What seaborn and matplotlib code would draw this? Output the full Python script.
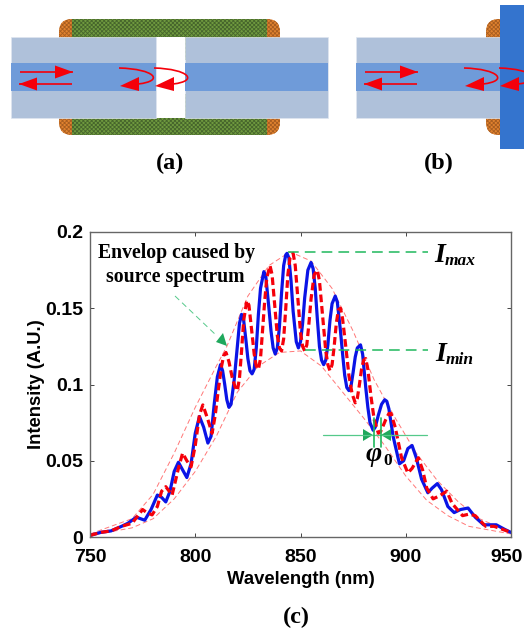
import numpy as np
import pandas as pd
import matplotlib
matplotlib.use("Agg")
import matplotlib.pyplot as plt
import seaborn as sns
from matplotlib.patches import Rectangle, FancyBboxPatch, PathPatch, Polygon
from matplotlib.path import Path as MplPath
from matplotlib.transforms import ScaledTranslation

# wavelength (nm) / intensity
blue_x = [750, 755, 760, 765, 768, 772, 776, 779, 782, 784, 786, 788, 790, 792, 794, 796, 798, 800, 802, 804,
          806, 807.5, 809, 810.5, 812, 813, 814, 815, 816, 817, 818.5, 820, 821, 822, 823, 824, 825, 826, 827, 828,
          829, 830, 831, 832.6, 833.5, 835, 836, 837, 838, 839, 840, 841, 842, 843, 843.6, 844.5, 845.5, 846.5, 848, 849,
          850, 851, 852, 853.5, 855, 856, 857, 858, 859, 860, 861, 862, 863, 864, 865, 866.5, 867.5, 869, 870, 871,
          872, 873, 874, 875, 876, 877, 878.5, 879.5, 881, 882, 883, 884.5, 885.5, 887, 888.5, 890, 891, 892, 894, 897,
          899, 901, 903, 905, 907.5, 910.5, 912.5, 915, 917, 920, 923, 926, 929.6, 933, 937, 940, 943, 947, 950]
blue_y = [.001, .003, .004, .007, .009, .013, .011, .018, .0275, .026, .023, .03, .043, .049, .044, .039, .048, .068, .079, .072,
          .0616, .066, .087, .105, .113, .109, .1, .09, .085, .087, .103, .125, .14, .146, .142, .13, .117, .109, .107, .11,
          .124, .146, .163, .174, .171, .15, .135, .124, .12, .124, .138, .16, .178, .185, .186, .183, .168, .148, .128, .124,
          .128, .14, .157, .175, .18, .176, .163, .143, .125, .116, .113, .116, .126, .142, .153, .158, .154, .135, .12, .106,
          .098, .096, .099, .108, .118, .124, .126, .12, .098, .085, .075, .07, .072, .08, .087, .09, .089, .084, .066, .048,
          .05, .058, .06, .052, .038, .029, .032, .035, .031, .02, .016, .018, .019, .013, .008, .008, .008, .005, .003]

red_x = [750, 755, 760, 765, 770, 775, 777, 779.5, 782, 784, 786, 789, 792, 794, 796, 798, 800, 802, 803.6, 806,
         808, 809.5, 811, 812.5, 813.5, 814.6, 816, 817.5, 819, 820, 821, 822, 823, 824.5, 825.5, 827, 828, 829, 830, 831,
         832, 833, 834, 835.5, 836.5, 838, 839, 840, 841, 842, 843, 844, 845, 846.5, 847.5, 849, 850, 851, 852, 853,
         854, 855, 856.5, 858, 859, 860.5, 862, 863, 864, 865, 866, 867, 868, 869, 870, 871.5, 873, 874.5, 876, 877,
         878, 879, 880, 881, 882, 883.5, 885, 887, 888, 889, 890.5, 892, 893, 895, 898,
         901, 903, 906, 908, 910, 913, 916, 919.5, 922, 927, 930, 933, 938, 942, 946, 950]
red_y = [.001, .003, .004, .007, .009, .018, .016, .0145, .02, .03, .033, .0275, .045, .055, .05, .046, .06, .08, .0866, .077,
         .068, .08, .097, .112, .119, .121, .115, .105, .098, .096, .104, .122, .142, .155, .152, .133, .12, .112, .11, .117,
         .136, .155, .17, .178, .172, .148, .132, .124, .122, .13, .15, .172, .183, .186, .178, .152, .134, .125, .122, .126,
         .14, .156, .172, .175, .168, .145, .122, .113, .109, .113, .125, .14, .149, .15, .143, .125, .106, .094, .088, .091,
         .1, .11, .116, .117, .11, .092, .077, .068, .069, .072, .077, .081, .081, .072, .052,
         .042, .045, .052, .044, .032, .025, .027, .03, .022, .014, .015, .014, .007, .007, .005, .003]

upper_x = [750, 770, 780, 790, 800, 810, 815, 825, 835, 845, 855, 865, 875, 885, 895, 905, 915, 925, 935, 950]
upper_y = [.002, .012, .028, .055, .085, .112, .125, .158, .178, .187, .181, .163, .135, .103, .078, .055, .037, .023, .012, .003]
lower_x = [750, 770, 780, 790, 800, 810, 820, 830, 840, 850, 860, 870, 880, 890, 900, 910, 920, 930, 950]
lower_y = [.001, .006, .012, .025, .043, .066, .095, .112, .121, .122, .112, .095, .078, .06, .04, .024, .014, .007, .002]

x_ticks = [750, 800, 850, 900, 950]
y_ticks = [0, 0.05, 0.1, 0.15, 0.2]
y_tick_labels = ["0", "0.05", "0.1", "0.15", "0.2"]

W, H = 524, 631
CLAD = "#afc1da"
CORE = "#6f9bd9"
MIRROR = "#3474ce"
ORANGE = "#e0822f"
GREEN = "#6f9a3f"
ARROW_GREEN = "#1fb85c"
RED = "#f5000a"

sns.set_style("white")
plt.rcParams["font.family"] = ["Liberation Sans", "DejaVu Sans"]
plt.rcParams["hatch.linewidth"] = 0.6

fig = plt.figure(figsize=(W / 100, H / 100), dpi=100)

# main chart, spine positions taken in pixels
ax = fig.add_axes([90 / W, 1 - 537 / H, 421 / W, 305 / H])
sns.lineplot(x=upper_x, y=upper_y, ax=ax, color="#f77", lw=0.7, linestyle=(0, (5, 3)), errorbar=None)
sns.lineplot(x=lower_x, y=lower_y, ax=ax, color="#f77", lw=0.7, linestyle=(0, (5, 3)), errorbar=None)
sns.lineplot(data=pd.DataFrame({"wl": blue_x, "i": blue_y}), x="wl", y="i", ax=ax, color="#0a14e6", lw=2.3, errorbar=None)
sns.lineplot(data=pd.DataFrame({"wl": red_x, "i": red_y}), x="wl", y="i", ax=ax, color=RED, lw=2.3,
             linestyle=(0, (2.4, 1.2)), errorbar=None)
ax.set_xlim(750, 950)
ax.set_ylim(0, 0.2)
ax.set_xticks(x_ticks)
ax.set_yticks(y_ticks)
ax.set_yticklabels(y_tick_labels)
ax.tick_params(direction="in", length=3, width=0.7, color="#444", top=True, right=True, bottom=True, left=True,
               labelsize=14, labelcolor="k", pad=5)
ax.tick_params(axis="x", pad=9)
for lab in ax.get_xticklabels() + ax.get_yticklabels():
    lab.set_fontweight("bold")
# keep the last label inside the canvas
last = ax.get_xticklabels()[-1]
last.set_transform(last.get_transform() + ScaledTranslation(-3 / 72, 0, fig.dpi_scale_trans))
ax.set_xlabel("Wavelength (nm)", fontsize=13.3, fontweight="bold", labelpad=3, color="k")
ax.set_ylabel("Intensity (A.U.)", fontsize=13.2, fontweight="bold", labelpad=0, color="k")
for s in ax.spines.values():
    s.set_color("#666")
    s.set_linewidth(1.0)

# overlay in pixel coordinates for the schematic and annotations
ov = fig.add_axes([0, 0, 1, 1], zorder=5)
ov.set_xlim(0, W)
ov.set_ylim(H, 0)
ov.axis("off")
ov.patch.set_alpha(0)


def draw_red_arrow(x0, y0, x1, y1):
    ov.plot([x0, x1], [y0, y1], color=RED, lw=1.2, solid_capstyle="butt")
    d = np.sign(x1 - x0)
    ov.add_patch(Polygon([[x1, y1], [x1 - d * 18, y1 - 6.5], [x1 - d * 18, y1 + 6.5]], fc=RED, ec="none"))


def draw_curl(x0, y0, xc, yc, x1, y1):
    path = MplPath([(x0, y0), (xc, y0 + 1), (xc + 10, yc + 9), (x1, y1)],
                   [MplPath.MOVETO, MplPath.CURVE4, MplPath.CURVE4, MplPath.CURVE4])
    ov.add_patch(PathPatch(path, fc="none", ec=RED, lw=1.2))
    ov.add_patch(Polygon([[x1 - 18, y1 + 2], [x1 + 1, y1 - 7], [x1 + 1, y1 + 7]], fc=RED, ec="none"))


def fiber(x0, x1):
    ov.add_patch(Rectangle((x0, 36.5), x1 - x0, 81.5, fc=CLAD, ec="#dfe6f0", lw=0.5))
    ov.add_patch(Rectangle((x0, 63), x1 - x0, 28, fc=CORE, ec="none"))


# (a) collars, the far side of each is hidden by the fiber
for y0, y1 in [(19, 60), (94, 135)]:
    ov.add_patch(FancyBboxPatch((59, y0), 221, y1 - y0, boxstyle="round,pad=0,rounding_size=13", fc=ORANGE,
                                ec="#a85d20", hatch="xxxxxxxx", lw=0))
    ov.add_patch(Rectangle((72, y0), 195, y1 - y0, fc=GREEN, ec="#47662c", hatch="xxxxxxxx", lw=0))
ov.add_patch(Rectangle((155.5, 36.5), 29.5, 81.5, fc="white", ec="none"))
fiber(10.5, 155.5)
fiber(185, 328)

# (b) collar and mirror
for y0, y1 in [(19, 60), (94, 135)]:
    ov.add_patch(FancyBboxPatch((486, y0), 30, y1 - y0, boxstyle="round,pad=0,rounding_size=13", fc=ORANGE,
                                ec="#a85d20", hatch="xxxxxxxx", lw=0))
fiber(356, 499.5)
ov.add_patch(Rectangle((499.5, 5), 24.5, 144, fc=MIRROR, ec="none"))

draw_red_arrow(20, 72, 73, 72)
draw_red_arrow(72, 84, 19, 84)
draw_red_arrow(365, 72, 418, 72)
draw_red_arrow(417, 84, 364, 84)
draw_curl(119, 68, 155, 72, 138, 84)
draw_curl(154, 68, 189, 72, 173, 84)
draw_curl(464, 68, 499, 72, 483, 84)
draw_curl(499, 68, 534, 72, 518, 84)

serif = ["Liberation Serif", "DejaVu Serif"]
ov.text(170, 163, "(a)", family=serif, fontweight="bold", fontsize=17.5, ha="center", va="center", color="k")
ov.text(439, 163, "(b)", family=serif, fontweight="bold", fontsize=17.5, ha="center", va="center", color="k")
ov.text(296, 617, "(c)", family=serif, fontweight="bold", fontsize=17.5, ha="center", va="center", color="k")
ov.text(176, 253, "Envelop caused by", family=serif, fontweight="bold", fontsize=14.2, ha="center", va="center", color="k")
ov.text(175, 277, "source spectrum", family=serif, fontweight="bold", fontsize=14.2, ha="center", va="center", color="k")

# green annotations
dash = (0, (7, 4))
ov.plot([288, 428], [251.5, 251.5], color=ARROW_GREEN, lw=1.1, linestyle=dash)
ov.plot([305, 428], [350, 350], color=ARROW_GREEN, lw=1.1, linestyle=dash)
ov.plot([175, 217], [296, 336], color="#55c98a", lw=0.7, linestyle=(0, (6, 4)))
ov.add_patch(Polygon([[227, 346], [216, 342], [223, 333]], fc="#1fa85c", ec="none"))
ov.plot([323, 427], [435, 435], color="#55c98a", lw=0.9)
ov.plot([374, 374], [418, 447], color=ARROW_GREEN, lw=1.2)
ov.plot([380.5, 380.5], [418, 447], color=ARROW_GREEN, lw=1.2)
ov.add_patch(Polygon([[373, 435], [363, 429], [363, 441]], fc="#1fa85c", ec="none"))
ov.add_patch(Polygon([[381, 435], [391, 429], [391, 441]], fc="#1fa85c", ec="none"))

ov.text(434, 262, "I", family=serif, style="italic", fontweight="bold", fontsize=20, color="k")
ov.text(445, 265, "max", family=serif, style="italic", fontweight="bold", fontsize=12.5, color="k")
ov.text(435, 361, "I", family=serif, style="italic", fontweight="bold", fontsize=20, color="k")
ov.text(446, 364, "min", family=serif, style="italic", fontweight="bold", fontsize=12.5, color="k")
ov.text(366, 461, "φ", family=serif, style="italic", fontweight="bold", fontsize=20, color="k")
ov.text(383, 465, "0", family=serif, fontweight="bold", fontsize=12.5, color="k")

fig.savefig("out.png", dpi=100)
